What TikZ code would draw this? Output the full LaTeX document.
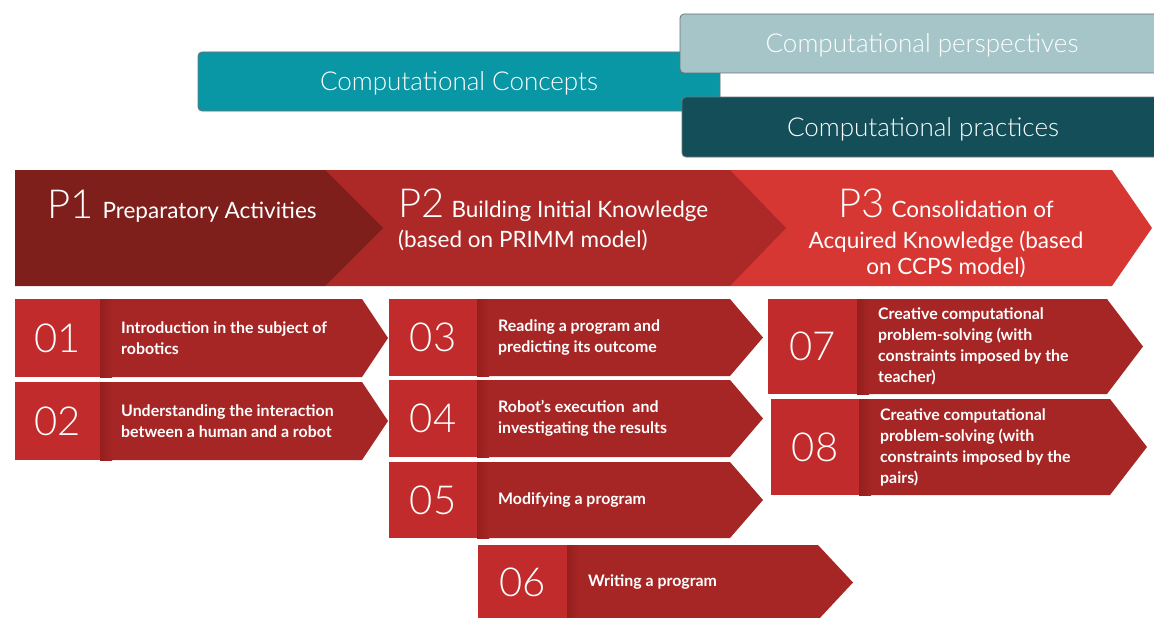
\documentclass[tikz,border=0pt]{standalone}
\usepackage{fontspec}
\setmainfont{Lato}
\newfontfamily\thinfont{Lato Light}
\definecolor{concept}{HTML}{0A97A5}
\definecolor{perspect}{HTML}{A5C5C9}
\definecolor{practice}{HTML}{144F59}
\definecolor{boxedge}{HTML}{6E7476}
\definecolor{phaseone}{HTML}{7F1F1C}
\definecolor{phasetwo}{HTML}{AD2927}
\definecolor{phasethree}{HTML}{D73733}
\definecolor{stepnumred}{HTML}{C12B2B}
\definecolor{bodyred}{HTML}{A52624}
\definecolor{bodyedge}{HTML}{941F1D}
% large light numerals in the phase titles
\newcommand{\phnum}[1]{{\thinfont\fontsize{40}{40}\selectfont #1}}
% one step card: name, x0, x1, ytop, ybottom, x of top-right corner, x of tip, number, label
\newcommand{\stepcard}[9]{%
  \pgfmathsetmacro{\cardmid}{(#4+#5)/2}%
  \fill[bodyred] (#3,#4) -- (#6,#4) -- (#7,\cardmid) -- (#6,#5) -- (#3,#5) -- cycle;
  \shade[left color=bodyedge, right color=bodyred] (#3,#4) rectangle (#3+12,#5);
  \fill[stepnumred] (#2,#4) rectangle (#3,#5);
  \node[numtext] (num#1) at ({(#2+#3)/2},\cardmid) {#8};
  \node[labtext] (lab#1) at (#3+21,\cardmid) {#9};
}
\begin{document}
\begin{tikzpicture}[x=1pt,y=-1pt,
  topbox/.style={draw=boxedge, line width=0.8pt, rounded corners=4pt, inner sep=0pt,
    text=white, text depth=0pt, font=\thinfont\fontsize{26}{30}\selectfont},
  numtext/.style={text=white, inner sep=0pt, font=\thinfont\fontsize{40}{40}\selectfont},
  labtext/.style={text=white, inner sep=0pt, anchor=west, align=left,
    font=\bfseries\fontsize{15.9}{21}\selectfont},
  phasetext/.style={text=white, inner sep=0pt, font=\fontsize{22.5}{30}\selectfont}]
\useasboundingbox (0,0) rectangle (1154,618);
\fill[white] (0,0) rectangle (1154,618);

% the three strands of computational thinking
\node[topbox, fill=concept, minimum width=522pt, minimum height=59pt]
  (concepts) at (459,81.5) {Computational Concepts};
\node[topbox, fill=perspect, minimum width=484pt, minimum height=59pt]
  (perspectives) at (922,43.5) {Computational perspectives};
\node[topbox, fill=practice, minimum width=482pt, minimum height=60pt]
  (practices) at (923,127) {Computational practices};

% phase band
\fill[phasethree] (730,170) -- (1112,170) -- (1152,228) -- (1112,286) -- (730,286) -- cycle;
\fill[phasetwo] (325,170) -- (730,170) -- (786,228) -- (730,286) -- (325,286) -- cycle;
\fill[phaseone] (15,170) -- (325,170) -- (383,228) -- (325,286) -- (15,286) -- cycle;

\node[phasetext, anchor=base west] (p1) at (47,218)
  {\phnum{P1}\hspace{9pt}Preparatory Activities};
\node[phasetext, anchor=north west, align=left] (p2) at (398,189)
  {\phnum{P2}\hspace{7pt}Building Initial Knowledge\\(based on PRIMM model)};
\node[phasetext, anchor=north, align=center, font=\fontsize{22.5}{26}\selectfont] (p3) at (946,189)
  {\phnum{P3}\hspace{7pt}Consolidation of\\[5pt]Acquired Knowledge (based\\on CCPS model)};

% step cards
\stepcard{01}{15}{100}{299}{377}{362}{388}{01}{Introduction in the subject of\\robotics}
\stepcard{02}{15}{100}{382}{460}{362}{388}{02}{Understanding the interaction\\between a human and a robot}
\stepcard{03}{389}{477}{299}{376}{730}{763}{03}{Reading a program and\\predicting its outcome}
\stepcard{04}{389}{477}{380}{457}{730}{763}{04}{Robot’s execution\ \ and\\investigating the results}
\stepcard{05}{389}{477}{462}{538}{730}{763}{05}{Modifying a program}
\stepcard{06}{478}{567}{545}{620}{818}{853}{06}{Writing a program}
\stepcard{07}{768}{857}{299}{394}{1107}{1143}{07}{Creative computational\\problem-solving (with\\constraints imposed by the\\teacher)}
\stepcard{08}{771}{859}{399}{495}{1110}{1147}{08}{Creative computational\\problem-solving (with\\constraints imposed by the\\pairs)}
\end{tikzpicture}
\end{document}
